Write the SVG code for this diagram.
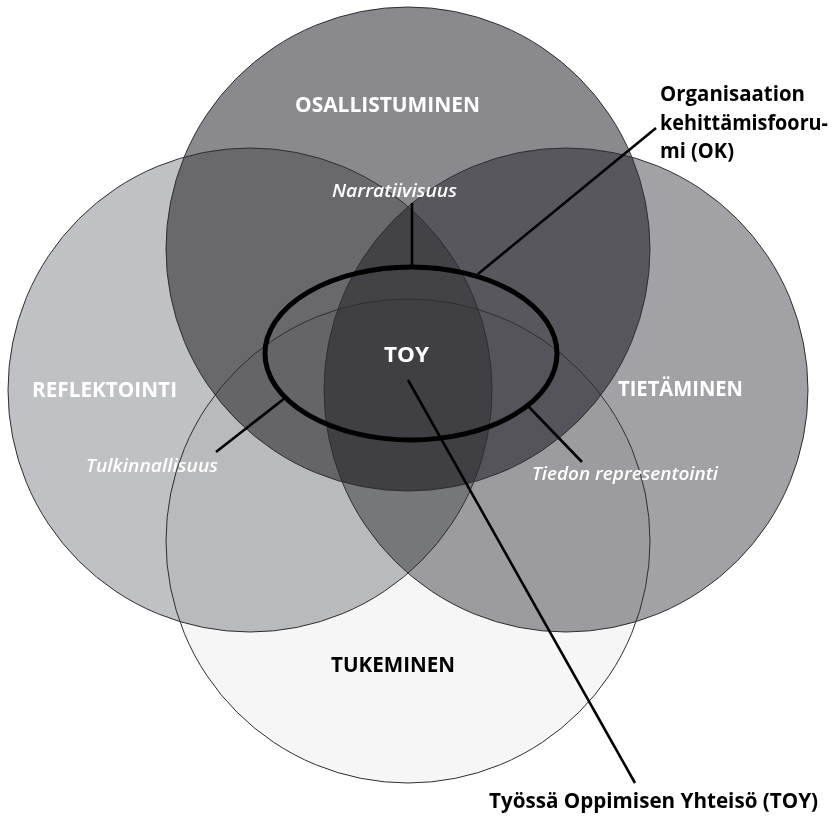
<svg xmlns="http://www.w3.org/2000/svg" width="837" height="816" viewBox="0 0 837 816">
  <style>
    .disc { mix-blend-mode: multiply; }
    .rim { fill: none; stroke: #2e2e30; stroke-width: 1; }
    .lead { fill: none; stroke: #000; stroke-width: 2.6; stroke-linecap: butt; }
    .cap { font-family: "Open Sans", "Liberation Sans", sans-serif; font-weight: 700; font-size: 21px; }
    .note { font-family: "Open Sans", "Liberation Sans", sans-serif; font-weight: 600; font-style: italic; font-size: 18px; fill: #fff; }
    .white { fill: #fff; }
    .black { fill: #000; }
  </style>

  <rect width="837" height="816" fill="#fff"/>

  <!-- four overlapping areas, shaded by multiplying their greys -->
  <g id="areas" style="isolation:isolate">
    <g id="osallistuminen"><circle class="disc" cx="408" cy="249" r="242" fill="#8a898e"/></g>
    <g id="reflektointi"><circle class="disc" cx="250" cy="390" r="242" fill="#c0c1c4"/></g>
    <g id="tietaminen"><circle class="disc" cx="566" cy="390" r="242" fill="#a2a2a6"/></g>
    <g id="tukeminen"><circle class="disc" cx="408" cy="541" r="242" fill="#f5f6f5"/></g>
  </g>

  <!-- outlines of the areas -->
  <g id="outlines">
    <circle class="rim" cx="408" cy="249" r="242"/>
    <circle class="rim" cx="250" cy="390" r="242"/>
    <circle class="rim" cx="566" cy="390" r="242"/>
    <circle class="rim" cx="408" cy="541" r="242"/>
  </g>

  <!-- area titles -->
  <text class="cap white" x="295" y="112" textLength="185" lengthAdjust="spacingAndGlyphs">OSALLISTUMINEN</text>
  <text class="cap white" x="32" y="397" textLength="145" lengthAdjust="spacingAndGlyphs">REFLEKTOINTI</text>
  <text class="cap white" x="618" y="396" textLength="125" lengthAdjust="spacingAndGlyphs">TIETÄMINEN</text>
  <text class="cap black" x="331" y="672" textLength="124" lengthAdjust="spacingAndGlyphs">TUKEMINEN</text>

  <!-- overlap notes -->
  <text class="note" x="332" y="197" textLength="125" lengthAdjust="spacingAndGlyphs">Narratiivisuus</text>
  <text class="note" x="86" y="472" textLength="132" lengthAdjust="spacingAndGlyphs">Tulkinnallisuus</text>
  <text class="note" x="532" y="480" textLength="186" lengthAdjust="spacingAndGlyphs">Tiedon representointi</text>

  <!-- OK forum ring with the TOY core -->
  <g id="ok-forum">
    <ellipse cx="411" cy="353.5" rx="146" ry="86.5" fill="none" stroke="#000" stroke-width="5"/>
  </g>
  <g id="toy">
    <text class="cap white" x="384" y="362" font-size="24" font-weight="600" textLength="45" lengthAdjust="spacingAndGlyphs">TOY</text>
  </g>

  <!-- leader lines -->
  <g id="connectors">
    <line class="lead" x1="412" y1="203" x2="412" y2="267"/>
    <line class="lead" x1="478" y1="274" x2="656" y2="128"/>
    <line class="lead" x1="285" y1="398" x2="216" y2="452"/>
    <line class="lead" x1="528" y1="406" x2="582" y2="462"/>
    <line class="lead" x1="408" y1="380" x2="635" y2="783"/>
  </g>

  <!-- outside captions -->
  <g id="ok-caption">
    <text class="cap black" x="660" y="101" textLength="145" lengthAdjust="spacingAndGlyphs">Organisaation</text>
    <text class="cap black" x="660" y="130" textLength="168" lengthAdjust="spacingAndGlyphs">kehittämisfooru-</text>
    <text class="cap black" x="660" y="158" textLength="74" lengthAdjust="spacingAndGlyphs">mi (OK)</text>
  </g>
  <g id="toy-caption">
    <text class="cap black" x="489" y="808" textLength="329" lengthAdjust="spacingAndGlyphs">Työssä Oppimisen Yhteisö (TOY)</text>
  </g>
</svg>
